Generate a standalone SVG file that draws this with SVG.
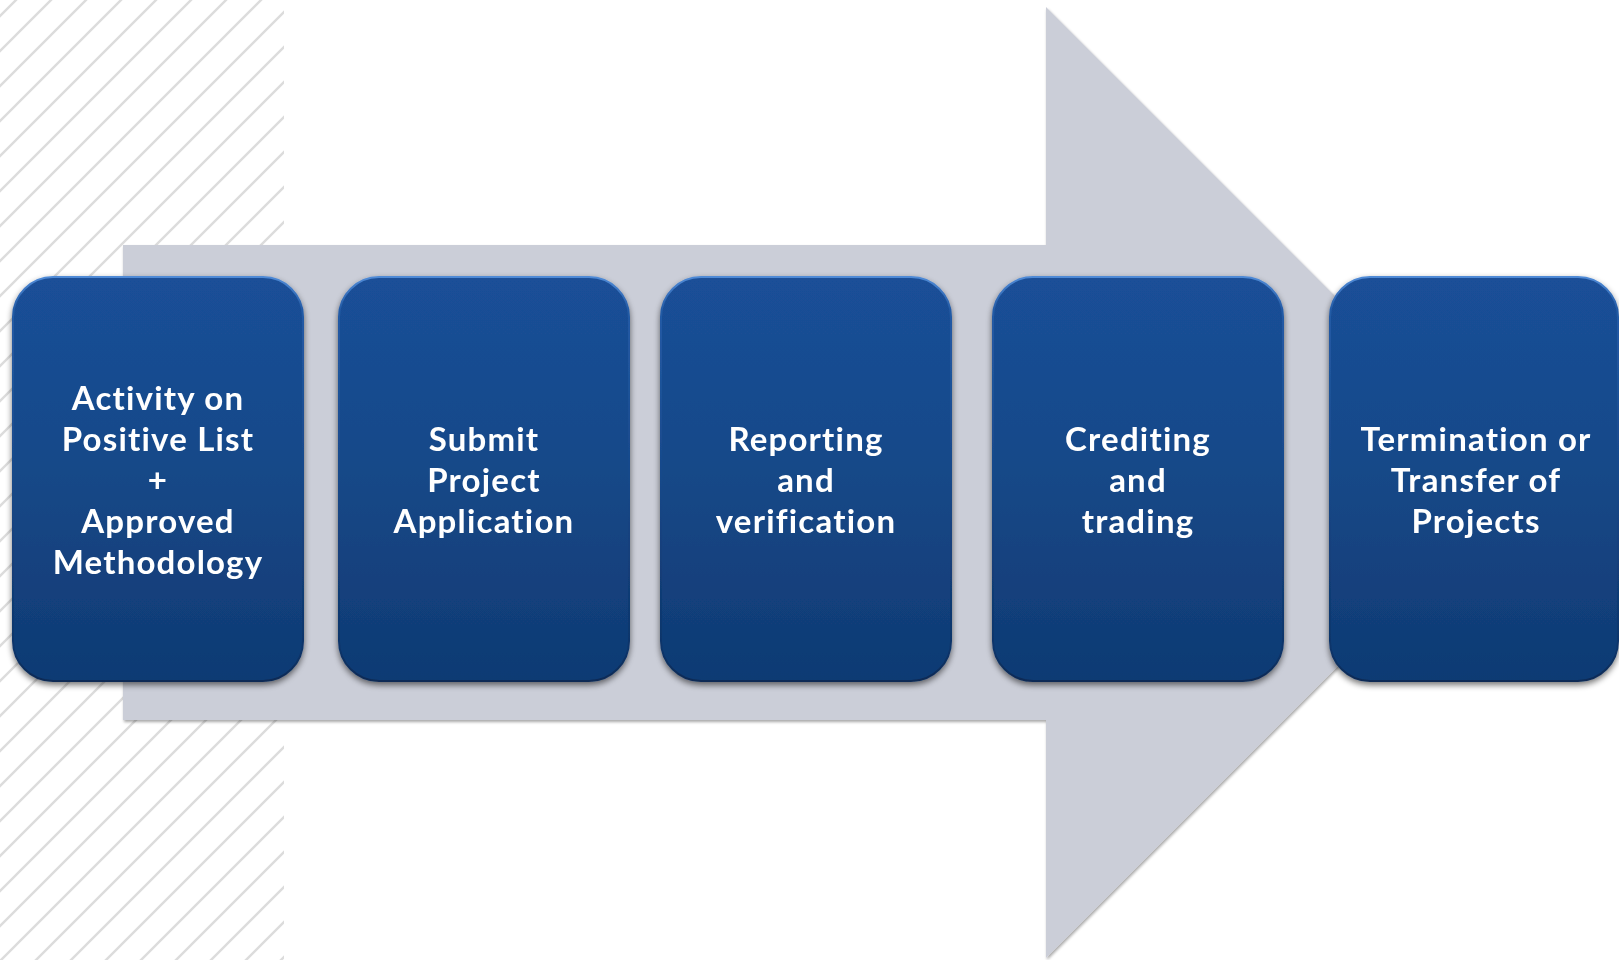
<svg xmlns="http://www.w3.org/2000/svg" width="1619" height="960" viewBox="0 0 1619 960">
  <defs>
    <pattern id="stripes" patternUnits="userSpaceOnUse" x="16" y="0" width="35" height="35">
      <path d="M-5,40 L40,-5 M-5,5 L5,-5 M30,40 L40,30" stroke="#dcdcdc" stroke-width="2.4" fill="none"/>
    </pattern>
    <filter id="soft" x="0" y="0" width="100%" height="100%">
      <feGaussianBlur stdDeviation="0.6"/>
    </filter>
    <linearGradient id="boxFill" x1="0" y1="0" x2="0" y2="1">
      <stop offset="0" stop-color="#1a4f98"/>
      <stop offset="0.45" stop-color="#174989"/>
      <stop offset="1" stop-color="#0f3a73"/>
    </linearGradient>
    <linearGradient id="boxEdge" x1="0" y1="0" x2="0" y2="1">
      <stop offset="0" stop-color="#4f8ad6"/>
      <stop offset="0.08" stop-color="#245ba6"/>
      <stop offset="0.5" stop-color="#174889"/>
      <stop offset="0.92" stop-color="#0e356a"/>
      <stop offset="1" stop-color="#0a2a55"/>
    </linearGradient>
    <filter id="boxShadow" x="-10%" y="-10%" width="120%" height="125%">
      <feGaussianBlur in="SourceAlpha" stdDeviation="3"/>
      <feOffset dx="0" dy="3" result="b"/>
      <feComponentTransfer><feFuncA type="linear" slope="0.55"/></feComponentTransfer>
      <feMerge><feMergeNode/><feMergeNode in="SourceGraphic"/></feMerge>
    </filter>
    <filter id="arrowShadow" x="-5%" y="-5%" width="110%" height="110%">
      <feGaussianBlur in="SourceAlpha" stdDeviation="1.5"/>
      <feOffset dx="1" dy="2"/>
      <feComponentTransfer><feFuncA type="linear" slope="0.35"/></feComponentTransfer>
      <feMerge><feMergeNode/><feMergeNode in="SourceGraphic"/></feMerge>
    </filter>
    <style>
      .box { fill: url(#boxFill); stroke: url(#boxEdge); stroke-width: 2; }
      .lbl { font-family: Lato, "Liberation Sans", sans-serif; font-weight: 700; font-size: 33px; letter-spacing: 1.2px; font-variant-ligatures: none; fill: #ffffff; text-anchor: middle; }
    </style>
  </defs>

  <rect width="1619" height="960" fill="#ffffff"/>
  <rect id="stripe-band" x="0" y="0" width="284" height="960" fill="url(#stripes)" filter="url(#soft)"/>

  <g id="connectors">
    <polygon id="big-arrow" points="123,245 1046,245 1046,7 1521.5,482.5 1046,958 1046,720 123,720" fill="#cbced8" filter="url(#arrowShadow)"/>
  </g>

  <g id="node1" filter="url(#boxShadow)">
    <rect class="box" x="13" y="277" width="290" height="404" rx="40" ry="40"/>
    <text class="lbl" x="158" y="410">Activity on</text>
    <text class="lbl" x="158" y="451">Positive List</text>
    <text class="lbl" x="158" y="492">+</text>
    <text class="lbl" x="158" y="533">Approved</text>
    <text class="lbl" x="158" y="574">Methodology</text>
  </g>
  <g id="node2" filter="url(#boxShadow)">
    <rect class="box" x="339" y="277" width="290" height="404" rx="40" ry="40"/>
    <text class="lbl" x="484" y="451">Submit</text>
    <text class="lbl" x="484" y="492">Project</text>
    <text class="lbl" x="484" y="533">Application</text>
  </g>
  <g id="node3" filter="url(#boxShadow)">
    <rect class="box" x="661" y="277" width="290" height="404" rx="40" ry="40"/>
    <text class="lbl" x="806" y="451">Reporting</text>
    <text class="lbl" x="806" y="492">and</text>
    <text class="lbl" x="806" y="533">verification</text>
  </g>
  <g id="node4" filter="url(#boxShadow)">
    <rect class="box" x="993" y="277" width="290" height="404" rx="40" ry="40"/>
    <text class="lbl" x="1138" y="451">Crediting</text>
    <text class="lbl" x="1138" y="492">and</text>
    <text class="lbl" x="1138" y="533">trading</text>
  </g>
  <g id="node5" filter="url(#boxShadow)">
    <rect class="box" x="1330" y="277" width="288" height="404" rx="40" ry="40"/>
    <text class="lbl" x="1476" y="451">Termination or</text>
    <text class="lbl" x="1476" y="492">Transfer of</text>
    <text class="lbl" x="1476" y="533">Projects</text>
  </g>
</svg>
